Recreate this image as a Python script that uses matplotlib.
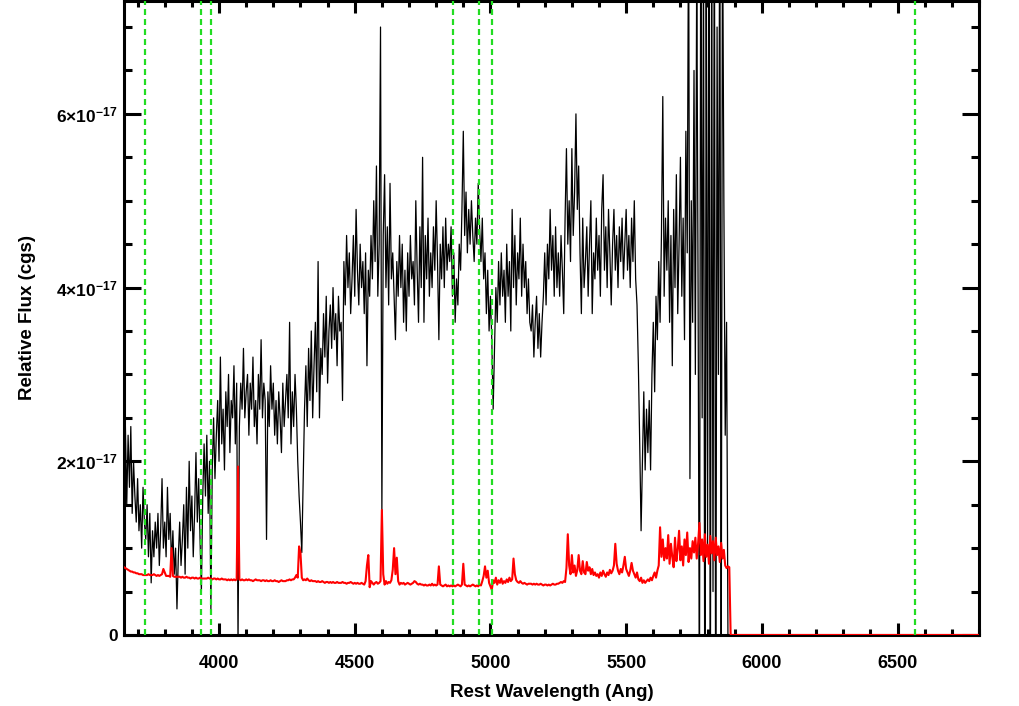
import numpy as np
import matplotlib
matplotlib.use("Agg")
import matplotlib.pyplot as plt
from matplotlib.ticker import MultipleLocator

plt.rcParams['font.family'] = ['Liberation Sans', 'DejaVu Sans']
plt.rcParams['font.weight'] = 'bold'
plt.rcParams['mathtext.fontset'] = 'custom'
plt.rcParams['mathtext.rm'] = 'Liberation Sans:bold'
plt.rcParams['mathtext.it'] = 'Liberation Sans:bold'
plt.rcParams['mathtext.bf'] = 'Liberation Sans:bold'

# rest wavelength grid: starts at 3650 Ang, 5 Ang per sample
wave_start = 3650
wave_step = 5

# object flux in units of 1e-17 cgs, one row per 100 Ang
flux = [
    1.9, 2.4, 1.5, 2.3, 1.7, 2.4, 1.4, 2.0, 1.6, 1.3, 1.8, 1.2, 1.5, 1.0, 1.7, 1.3, 1.1, 1.5, 0.9, 1.4,   # 3650
    0.6, 1.2, 0.9, 1.3, 1.0, 1.4, 0.8, 1.2, 1.8, 1.0, 1.3, 0.9, 1.7, 1.1, 1.4, 0.8, 1.2, 0.7, 1.0, 0.3,   # 3750
    0.9, 1.3, 0.8, 1.1, 1.5, 0.7, 1.7, 1.0, 2.0, 1.2, 1.6, 0.9, 1.4, 2.1, 1.3, 1.8, 1.1, 0.5, 1.6, 2.2,   # 3850
    1.6, 2.3, 1.4, 2.0, 0.3, 1.9, 2.5, 1.8, 2.3, 2.7, 2.0, 3.2, 2.2, 2.6, 1.9, 2.8, 2.4, 3.0, 2.1, 2.7,   # 3950
    2.5, 3.1, 2.2, 2.9, -0.1, 2.4, 2.9, 2.6, 3.3, 2.5, 2.8, 3.0, 2.3, 2.9, 2.6, 3.2, 2.4, 2.7, 2.2, 3.0,  # 4050
    2.6, 3.4, 2.5, 2.9, 2.7, 1.1, 2.8, 2.4, 3.1, 2.6, 2.9, 2.3, 2.7, 2.2, 2.8, 2.5, 2.1, 2.9, 2.4, 2.7,   # 4150
    3.0, 2.5, 3.6, 2.2, 2.8, 2.4, 3.0, 2.6, 2.0, 1.6, 1.3, 0.95, 1.8, 2.6, 3.1, 2.4, 3.3, 2.7, 3.5, 2.5,  # 4250
    3.1, 3.6, 2.8, 4.3, 2.5, 3.3, 3.0, 3.7, 3.2, 3.9, 2.9, 3.5, 3.8, 3.3, 4.0, 3.4, 3.7, 3.1, 3.9, 3.5,   # 4350
    3.6, 2.7, 4.3, 3.8, 4.6, 4.0, 4.4, 3.7, 4.1, 4.6, 3.9, 4.9, 4.2, 3.8, 4.5, 4.0, 4.3, 3.7, 4.4, 3.1,   # 4450
    4.2, 3.9, 4.6, 4.1, 5.0, 4.3, 5.4, 3.9, 4.5, 7.0, 1.4, 4.6, 5.3, 4.0, 4.7, 3.8, 5.2, 4.1, 4.4, 3.9,   # 4550
    3.4, 4.3, 3.9, 4.6, 4.0, 4.5, 3.6, 4.2, 3.5, 4.4, 3.9, 4.6, 4.1, 4.3, 3.8, 5.0, 4.2, 3.6, 4.7, 4.0,   # 4650
    5.5, 3.6, 4.6, 4.1, 4.8, 3.9, 4.4, 4.0, 4.7, 4.2, 5.0, 4.3, 3.4, 4.5, 4.1, 4.7, 4.0, 4.8, 4.2, 4.5,   # 4750
    4.3, 4.7, 3.9, 4.4, 3.6, 4.1, 3.8, 4.5, 4.2, 4.9, 5.8, 4.6, 5.1, 4.4, 4.9, 4.5, 5.0, 4.6, 4.3, 4.8,   # 4850
    4.5, 5.2, 4.7, 4.3, 4.8, 4.1, 4.4, 3.7, 4.2, 3.5, 3.9, 3.4, 2.6, 3.3, 4.0, 3.6, 4.3, 3.8, 4.4, 3.9,   # 4950
    4.2, 3.6, 4.5, 3.9, 4.3, 3.5, 4.9, 4.0, 4.6, 3.8, 4.4, 4.1, 4.8, 3.9, 4.5, 4.0, 4.3, 3.7, 4.1, 3.6,   # 5050
    3.5, 3.8, 3.2, 3.6, 3.9, 3.3, 3.7, 3.2, 3.6, 3.9, 4.4, 3.8, 4.5, 4.1, 4.9, 4.2, 4.6, 3.9, 4.7, 4.0,   # 5150
    4.4, 3.9, 4.6, 4.2, 3.7, 4.8, 5.6, 4.5, 5.0, 4.3, 5.6, 4.6, 5.1, 6.0, 4.9, 5.4, 4.4, 3.7, 4.8, 4.0,   # 5250
    4.3, 4.7, 3.9, 4.5, 5.0, 3.7, 4.4, 4.1, 4.8, 4.2, 4.6, 3.9, 4.9, 5.3, 4.2, 4.7, 4.0, 4.9, 4.4, 3.8,   # 5350
    4.5, 4.9, 4.2, 4.6, 4.0, 4.7, 4.3, 4.8, 4.1, 4.5, 4.9, 4.2, 4.6, 4.0, 4.8, 4.3, 5.0, 4.1, 3.8, 3.1,   # 5450
    2.2, 1.2, 2.0, 2.8, 1.9, 2.6, 2.1, 2.7, 1.9, 3.0, 3.6, 2.8, 3.9, 3.4, 4.3, 3.6, 4.6, 6.2, 3.9, 4.8,   # 5550
    4.2, 5.0, 3.6, 4.6, 3.1, 4.9, 4.0, 5.3, 3.7, 4.5, 5.5, 3.9, 4.8, 3.4, 5.8, 4.4, 8.5, 1.8, 5.0, 3.6,   # 5650
    6.5, 3.0, 7.8, 4.0, -1.0, 9.0, 2.5, 8.0, -2.0, 7.5, 1.0, 9.5, -1.5, 8.0, 0.5, 9.0, -2.0, 7.0, 3.0,    # 5750
    9.0, -1.0, 8.5, 5.0, 2.3, 3.6, 0.0, 0.0,                                                             # 5845
]

# error spectrum, same grid and units
err = [
    0.78, 0.77, 0.76, 0.75, 0.74, 0.73, 0.73, 0.72, 0.72, 0.71, 0.71, 0.70, 0.70, 0.70, 0.69, 0.69, 0.69, 0.69, 0.70, 0.69,  # 3650
    0.69, 0.69, 0.70, 0.69, 0.68, 0.69, 0.68, 0.69, 0.70, 0.76, 0.72, 0.68, 0.68, 0.68, 0.67, 1.00, 0.68, 0.67, 0.67, 0.67,  # 3750
    0.67, 0.67, 0.66, 0.67, 0.66, 0.66, 0.67, 0.66, 0.66, 0.65, 0.66, 0.66, 0.65, 0.66, 0.65, 0.65, 0.66, 0.65, 0.65, 0.65,  # 3850
    0.65, 0.65, 0.66, 0.65, 0.65, 0.64, 0.65, 0.65, 0.64, 0.65, 0.64, 0.64, 0.65, 0.64, 0.64, 0.64, 0.63, 0.64, 0.63, 0.64,  # 3950
    0.63, 0.64, 0.63, 0.64, 1.94, 0.64, 0.63, 0.64, 0.63, 0.63, 0.64, 0.63, 0.64, 0.63, 0.63, 0.62, 0.63, 0.64, 0.63, 0.63,  # 4050
    0.63, 0.62, 0.63, 0.63, 0.62, 0.63, 0.62, 0.62, 0.63, 0.62, 0.62, 0.63, 0.62, 0.62, 0.61, 0.62, 0.63, 0.62, 0.62, 0.62,  # 4150
    0.63, 0.63, 0.64, 0.63, 0.64, 0.64, 0.66, 0.69, 0.66, 1.02, 0.95, 0.66, 0.63, 0.64, 0.63, 0.65, 0.63, 0.62, 0.63, 0.62,  # 4250
    0.62, 0.62, 0.61, 0.62, 0.61, 0.61, 0.62, 0.61, 0.60, 0.61, 0.61, 0.60, 0.61, 0.60, 0.61, 0.60, 0.60, 0.61, 0.60, 0.60,  # 4350
    0.60, 0.61, 0.60, 0.60, 0.59, 0.60, 0.60, 0.61, 0.60, 0.59, 0.60, 0.59, 0.60, 0.59, 0.59, 0.60, 0.59, 0.58, 0.62, 0.80,  # 4450
    0.92, 0.55, 0.62, 0.60, 0.58, 0.60, 0.61, 0.59, 0.60, 0.62, 1.44, 0.70, 0.58, 0.62, 0.59, 0.61, 0.60, 0.63, 0.75, 1.00,  # 4550
    0.70, 0.89, 0.62, 0.58, 0.60, 0.59, 0.60, 0.58, 0.59, 0.60, 0.59, 0.58, 0.59, 0.60, 0.62, 0.61, 0.59, 0.58, 0.59, 0.58,  # 4650
    0.58, 0.57, 0.58, 0.57, 0.57, 0.58, 0.57, 0.59, 0.57, 0.58, 0.57, 0.58, 0.79, 0.58, 0.57, 0.56, 0.57, 0.58, 0.56, 0.57,  # 4750
    0.56, 0.57, 0.56, 0.57, 0.56, 0.57, 0.58, 0.57, 0.56, 0.58, 0.82, 0.58, 0.57, 0.56, 0.57, 0.56, 0.57, 0.58, 0.57, 0.56,  # 4850
    0.57, 0.56, 0.58, 0.57, 0.62, 0.68, 0.79, 0.66, 0.74, 0.60, 0.56, 0.52, 0.63, 0.60, 0.66, 0.58, 0.63, 0.60, 0.65, 0.59,  # 4950
    0.62, 0.60, 0.64, 0.61, 0.66, 0.62, 0.64, 0.88, 0.70, 0.63, 0.61, 0.60, 0.62, 0.60, 0.59, 0.60, 0.59, 0.58, 0.59, 0.59,  # 5050
    0.59, 0.58, 0.59, 0.58, 0.59, 0.58, 0.58, 0.59, 0.58, 0.57, 0.58, 0.58, 0.57, 0.58, 0.57, 0.58, 0.59, 0.58, 0.58, 0.59,  # 5150
    0.59, 0.60, 0.61, 0.60, 0.62, 0.61, 0.77, 1.16, 0.80, 0.70, 0.92, 0.72, 0.80, 0.68, 0.75, 0.92, 0.74, 0.70, 0.85, 0.72,  # 5250
    0.70, 0.84, 0.74, 0.78, 0.70, 0.76, 0.69, 0.72, 0.68, 0.70, 0.66, 0.72, 0.68, 0.74, 0.70, 0.67, 0.72, 0.69, 0.75, 0.71,  # 5350
    0.74, 0.80, 1.05, 0.82, 0.74, 0.70, 0.76, 0.72, 0.80, 0.90, 0.76, 0.72, 0.68, 0.74, 0.83, 0.74, 0.70, 0.66, 0.72, 0.64,  # 5450
    0.62, 0.66, 0.60, 0.63, 0.60, 0.62, 0.64, 0.62, 0.66, 0.63, 0.68, 0.72, 0.66, 0.74, 0.80, 1.24, 0.90, 1.10, 0.86, 1.00,  # 5550
    0.88, 1.15, 0.82, 1.05, 0.90, 0.78, 1.12, 0.85, 0.98, 1.20, 0.86, 1.02, 0.80, 1.10, 0.92, 1.18, 0.84, 1.00, 0.88, 1.08,  # 5650
    0.95, 1.12, 0.88, 1.05, 1.29, 0.92, 1.10, 0.85, 1.16, 0.90, 1.04, 0.82, 1.14, 0.94, 1.08, 0.86, 1.12, 0.92, 1.02, 0.84,  # 5750
    1.06, 0.88, 0.98, 0.80, 0.77, 0.79, 0.78,                                                                                # 5850
]

# past the end of the spectrum both are zero
tail_wave = [5885, 6800]
tail_val = [0.0, 0.0]

# marked lines: [OII], CaII K, CaII H, Hbeta, [OIII], [OIII], Halpha
line_waves = [3727, 3934, 3969, 4861, 4959, 5007, 6563]

ytick_vals = [0, 2, 4, 6]
ytick_text = ['0', '2×10$^{-17}$', '4×10$^{-17}$', '6×10$^{-17}$']

wf = np.concatenate([wave_start + wave_step * np.arange(len(flux)), tail_wave])
yf = np.concatenate([flux, tail_val])
we = np.concatenate([wave_start + wave_step * np.arange(len(err)), tail_wave])
ye = np.concatenate([err, tail_val])

fig = plt.figure(figsize=(10.2, 7.06), dpi=100)
ax = fig.add_axes([0.1216, 0.1006, 0.8382, 0.898])

ax.plot(wf, yf, color='black', lw=0.9, zorder=2)
ax.plot(we, ye, color='red', lw=1.5, zorder=3)
for lw_ in line_waves:
    ax.axvline(lw_, color='#22dd22', lw=1.6, ls=(0, (2.7, 1.8)), zorder=4)

ax.set_xlim(3650, 6800)
ax.set_ylim(0, 7.3)

ax.xaxis.set_major_locator(MultipleLocator(500))
ax.xaxis.set_minor_locator(MultipleLocator(100))
ax.set_yticks(ytick_vals)
ax.set_yticklabels(ytick_text)
ax.yaxis.set_minor_locator(MultipleLocator(0.5))

for s in ax.spines.values():
    s.set_linewidth(2.2)
ax.tick_params(which='both', direction='in', top=True, right=True, width=2.2)
ax.tick_params(axis='x', which='major', length=8.6, pad=14.5, labelsize=13)
ax.tick_params(axis='x', which='minor', length=4.3)
ax.tick_params(axis='y', which='major', length=12, pad=4.5, labelsize=12.5)
ax.tick_params(axis='y', which='minor', length=6)

ax.set_xlabel('Rest Wavelength (Ang)', fontsize=13.5, fontweight='bold')
ax.set_ylabel('Relative Flux (cgs)', fontsize=13.5, fontweight='bold')
ax.xaxis.set_label_coords(0.5, -0.077)
ax.yaxis.set_label_coords(-0.103, 0.5)

fig.savefig('out.png', dpi=100)
